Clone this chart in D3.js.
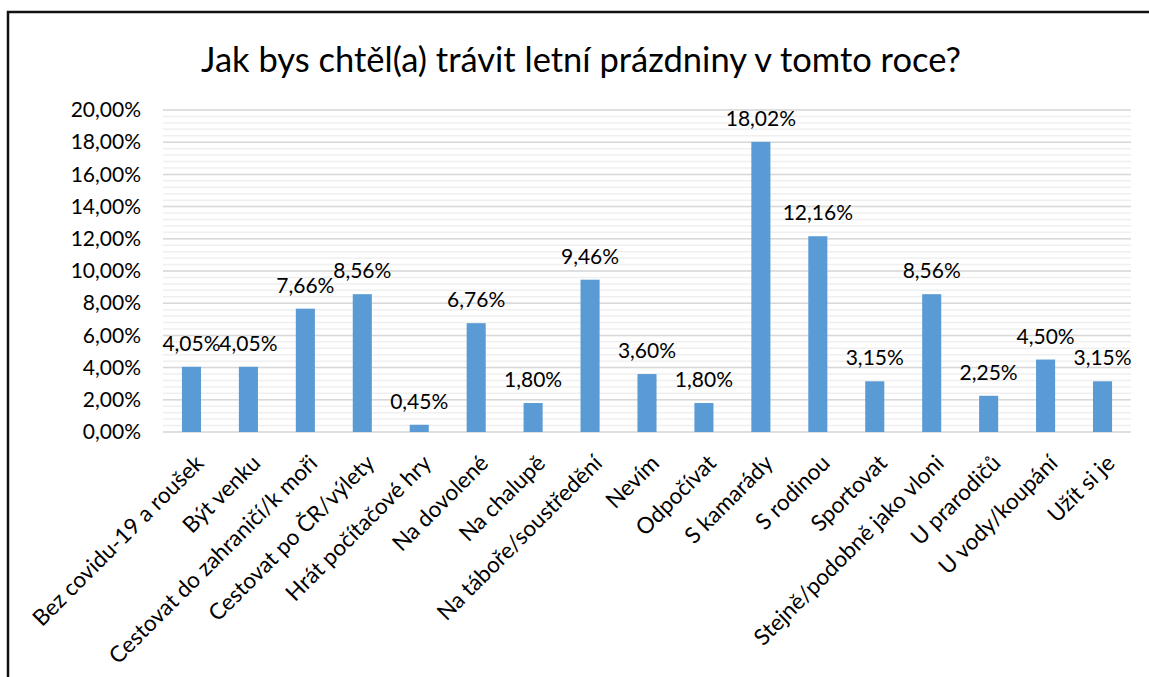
<!DOCTYPE html>
<html>
<head>
<meta charset="utf-8">
<script src="https://cdn.jsdelivr.net/npm/d3@7"></script>
<style>
  body { margin: 0; background: #fff; }
  text { font-family: Lato, "Open Sans", sans-serif; fill: #000; }
</style>
</head>
<body>
<svg id="chart" width="1149" height="677"></svg>
<script>
//chart data
const title = "Jak bys chtěl(a) trávit letní prázdniny v tomto roce?";
const categories = ["Bez covidu-19 a roušek", "Být venku", "Cestovat do zahraničí/k moři", "Cestovat po ČR/výlety",
  "Hrát počítačové hry", "Na dovolené", "Na chalupě", "Na táboře/soustředění", "Nevím", "Odpočívat",
  "S kamarády", "S rodinou", "Sportovat", "Stejně/podobně jako vloni", "U prarodičů", "U vody/koupání", "Užít si je"];
const values = [4.05, 4.05, 7.66, 8.56, 0.45, 6.76, 1.80, 9.46, 3.60, 1.80, 18.02, 12.16, 3.15, 8.56, 2.25, 4.50, 3.15];
const majorTicks = [0, 2, 4, 6, 8, 10, 12, 14, 16, 18, 20];
const minorTicks = d3.range(0, 20.01, 0.4);

//plot area
const margin = { top: 110, right: 18, bottom: 245, left: 163 };
const width = 1149 - margin.left - margin.right;
const height = 677 - margin.top - margin.bottom;

const fmt = v => v.toFixed(2).replace(".", ",") + "%";

const root = d3.select("#chart");

//outer frame
root.append("rect")
    .attr("x", 8).attr("y", 12)
    .attr("width", 1300).attr("height", 800)
    .attr("fill", "none")
    .attr("stroke", "#111")
    .attr("stroke-width", 2.5);

root.append("text")
    .attr("x", 581).attr("y", 72)
    .attr("text-anchor", "middle")
    .style("font-size", "34.5px")
    .text(title);

const svg = root.append("g")
    .attr("transform", `translate(${margin.left},${margin.top})`);

const x = d3.scaleBand()
    .domain(categories)
    .range([0, width])
    .paddingInner(0.665)
    .paddingOuter(0.3325);
const y = d3.scaleLinear()
    .domain([0, 20])
    .range([height, 0]);

//minor and major gridlines
svg.append("g").selectAll("line")
    .data(minorTicks)
    .join("line")
    .attr("x1", 0).attr("x2", width)
    .attr("y1", d => y(d)).attr("y2", d => y(d))
    .attr("stroke", "#efefef")
    .attr("stroke-width", 1.5);
svg.append("g").selectAll("line")
    .data(majorTicks)
    .join("line")
    .attr("x1", 0).attr("x2", width)
    .attr("y1", d => y(d)).attr("y2", d => y(d))
    .attr("stroke", "#d9d9d9")
    .attr("stroke-width", 1.5);

//y axis labels
svg.append("g")
    .call(d3.axisLeft(y).tickValues(majorTicks).tickFormat(fmt).tickSize(0).tickPadding(22))
    .call(g => g.select(".domain").remove())
    .selectAll("text")
    .style("font-family", "Lato, sans-serif")
    .style("font-size", "21px")
    .attr("fill", "#000");

//bars
svg.selectAll("rect.bar")
    .data(values)
    .join("rect")
    .attr("class", "bar")
    .attr("x", (d, i) => x(categories[i]))
    .attr("y", d => y(d))
    .attr("width", x.bandwidth())
    .attr("height", d => height - y(d))
    .attr("fill", "#5b9bd5");

//data labels
svg.selectAll("text.lbl")
    .data(values)
    .join("text")
    .attr("class", "lbl")
    .attr("x", (d, i) => x(categories[i]) + x.bandwidth() / 2)
    .attr("y", d => y(d) - 16)
    .attr("text-anchor", "middle")
    .style("font-size", "21px")
    .text(fmt);

//x axis labels, rotated
svg.append("g")
    .attr("transform", `translate(0,${height})`)
    .call(d3.axisBottom(x).tickSize(0).tickPadding(0))
    .call(g => g.select(".domain").remove())
    .selectAll("text")
    .style("font-family", "Lato, sans-serif")
    .style("font-size", "22.5px")
    .attr("fill", "#000")
    .attr("text-anchor", "end")
    .attr("dy", "0.35em")
    .attr("transform", "translate(8,27) rotate(-45)");
</script>
</body>
</html>
